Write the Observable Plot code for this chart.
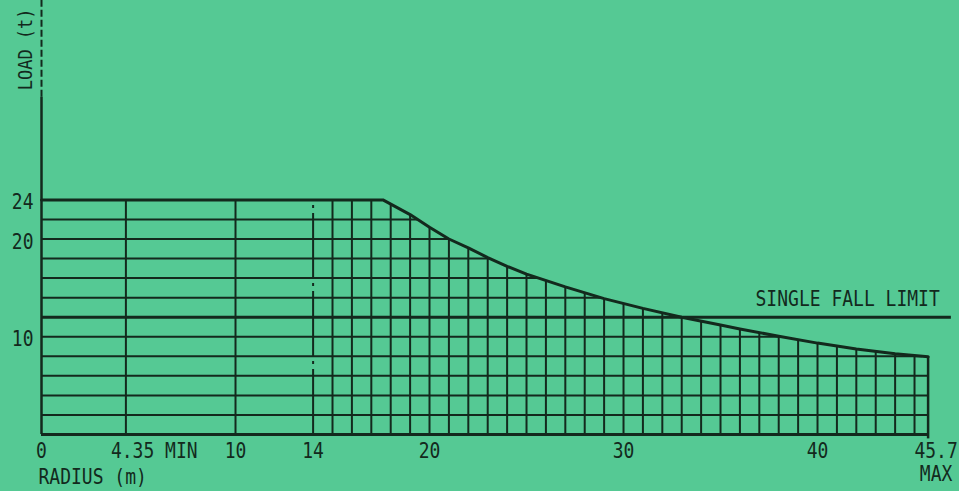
<!DOCTYPE html>
<html>
<head>
<meta charset="utf-8">
<script src="https://cdn.jsdelivr.net/npm/d3@7"></script>
<script src="https://cdn.jsdelivr.net/npm/@observablehq/plot@0.6"></script>
<style>
  html, body { margin: 0; padding: 0; background: #55c994; }
  #chart svg { display: block; }
</style>
</head>
<body>
<div id="chart"></div>
<script>
// Load chart curve: radius (m) vs safe working load (t)
const radius = [0, 17.6, 19, 20, 21, 22, 23, 24, 25, 27, 29, 31, 33, 35, 36, 38, 40, 42, 44, 45.7];
const load   = [24, 24, 22.5, 21.2, 20.0, 19.1, 18.1, 17.2, 16.4, 15.1, 13.9, 12.9, 12.0, 11.2, 10.8, 10.05, 9.35, 8.75, 8.25, 7.95];

// grid lines under the curve
const gridRadii = [4.35, 10, 15, 16, 17, 18, 19, 20, 21, 22, 23, 24, 25, 26, 27, 28, 29, 30,
                   31, 32, 33, 34, 35, 36, 37, 38, 39, 40, 41, 42, 43, 44, 45];
const dashedRadius = [14];
const gridLoads = [2, 4, 6, 8, 10, 14, 16, 18, 20, 22];

// axis labels
const xTickValues = [0, 10, 14, 20, 30, 40];
const xTickLabels = ["0", "10", "14", "20", "30", "40"];
const minRadius = [4.35];
const minLabel = ["4.35 MIN"];
const maxRadius = [45.7];
const maxLabels = ["45.7", "MAX"];
const yTickValues = [10, 20, 24];
const yTickLabels = ["10", "20", "24"];

const singleFallLimit = [12];
const singleFallLabel = "SINGLE FALL LIMIT";
const singleFallEnd = 46.9;
const xAxisTitle = "RADIUS (m)";
const yAxisTitle = "LOAD (t)";

const curve = radius.map((r, i) => ({r, l: load[i]}));

function loadAt(r) {
  for (let i = 1; i < radius.length; i++) {
    if (r <= radius[i]) {
      const t = (r - radius[i - 1]) / (radius[i] - radius[i - 1]);
      return load[i - 1] + t * (load[i] - load[i - 1]);
    }
  }
  return load[load.length - 1];
}
function radiusAt(l) {
  for (let i = 1; i < radius.length; i++) {
    if (load[i] < l || (i === radius.length - 1)) {
      if (load[i] === load[i - 1]) return radius[i];
      const t = (l - load[i - 1]) / (load[i] - load[i - 1]);
      return Math.min(radius[radius.length - 1], radius[i - 1] + t * (radius[i] - radius[i - 1]));
    }
  }
  return radius[radius.length - 1];
}

const ink = "#13291d";
const font = "'DejaVu Sans Mono', 'Liberation Mono', monospace";

const chart = Plot.plot({
  width: 959,
  height: 491,
  marginLeft: 41,
  marginRight: 31.4,
  marginTop: 0,
  marginBottom: 57,
  x: {domain: [0, 45.7], axis: null},
  y: {domain: [0, 44.4], axis: null},
  style: {background: "#55c994", fontFamily: font, fontSize: "18px", color: ink, overflow: "visible"},
  marks: [
    // horizontal grid
    Plot.ruleY(gridLoads, {y: d => d, x1: 0, x2: d => radiusAt(d), stroke: ink, strokeWidth: 2}),
    // vertical grid
    Plot.ruleX(gridRadii, {x: d => d, y1: 0, y2: d => loadAt(d), stroke: ink, strokeWidth: 2}),
    Plot.ruleX(dashedRadius, {x: d => d, y1: 0, y2: d => loadAt(d), stroke: ink, strokeWidth: 2, strokeDasharray: "65,5,3,5"}),
    // end line at max radius (with small tick below axis)
    Plot.ruleX(maxRadius, {x: d => d, y1: -0.45, y2: d => loadAt(d), stroke: ink, strokeWidth: 2.5}),
    // single fall limit
    Plot.ruleY(singleFallLimit, {y: d => d, x1: 0, x2: singleFallEnd, stroke: ink, strokeWidth: 3}),
    Plot.text([singleFallLabel], {x: 46.3, y: singleFallLimit[0], text: d => d, textAnchor: "end", lineAnchor: "bottom", dy: -11, fill: ink}),
    // load curve
    Plot.line(curve, {x: "r", y: "l", stroke: ink, strokeWidth: 3, strokeLinejoin: "round"}),
    // axes
    Plot.ruleY([0], {x1: 0, x2: 45.7, stroke: ink, strokeWidth: 3}),
    Plot.ruleX([0], {y1: 0, y2: 34.5, stroke: ink, strokeWidth: 2.5}),
    Plot.ruleX([0], {y1: 34.5, y2: 44.4, stroke: ink, strokeWidth: 2, strokeDasharray: "7,3"}),
    // x tick labels
    Plot.text(xTickValues, {x: d => d, y: 0, text: (d, i) => xTickLabels[i], textAnchor: "middle", lineAnchor: "bottom", dy: 23, fill: ink}),
    Plot.text(minRadius, {x: d => d, y: 0, text: (d, i) => minLabel[i], textAnchor: "start", lineAnchor: "bottom", dx: -15, dy: 23, fill: ink}),
    Plot.text(maxRadius, {x: d => d, y: 0, text: [maxLabels[0]], textAnchor: "middle", lineAnchor: "bottom", dx: 8, dy: 23, fill: ink}),
    Plot.text(maxRadius, {x: d => d, y: 0, text: [maxLabels[1]], textAnchor: "middle", lineAnchor: "bottom", dx: 8, dy: 46, fill: ink}),
    // y tick labels
    Plot.text(yTickValues, {x: 0, y: d => d, text: (d, i) => yTickLabels[i], textAnchor: "end", lineAnchor: "middle", dx: -8, dy: 3, fill: ink}),
    // axis titles
    Plot.text([xAxisTitle], {x: 0, y: 0, text: d => d, textAnchor: "start", lineAnchor: "bottom", dx: -3, dy: 49, fill: ink}),
    Plot.text([yAxisTitle], {x: 0, y: 39.4, text: d => d, rotate: -90, textAnchor: "middle", lineAnchor: "middle", dx: -16, fill: ink, fontSize: 17})
  ]
});

// plotter lettering is taller than it is wide: stretch each label vertically about its anchor
chart.querySelectorAll("text").forEach(t => {
  const tr = t.getAttribute("transform") || "";
  t.setAttribute("transform", (tr + " scale(1,1.14)").trim());
});

document.getElementById("chart").appendChild(chart);
</script>
</body>
</html>
